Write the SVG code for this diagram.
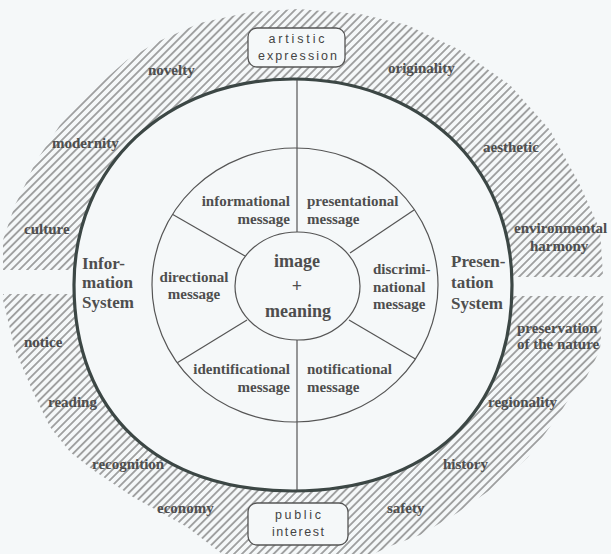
<svg xmlns="http://www.w3.org/2000/svg" width="611" height="554" viewBox="0 0 611 554">
<style>
.bg{fill:#f5f8f9}
.thick{fill:#f5f8f9;stroke:#3c4745;stroke-width:3.2}
.thin{fill:none;stroke:#555;stroke-width:1.2}
.fillc{fill:#f5f8f9;stroke:#555;stroke-width:1.2}
.s{font-family:"Liberation Serif","Times New Roman",serif;font-weight:bold;fill:#4e4e4e}
.lab{font-size:15px}
.msg{font-size:15px}
.sys{font-size:17px}
.ctr{font-size:18px}
.box{fill:#f5f8f9;stroke:#555;stroke-width:1.3}
.bt{font-family:"Liberation Sans",Arial,sans-serif;font-size:12.5px;fill:#444;text-anchor:middle}
</style>
<defs>
<pattern id="hp" width="5.6" height="10" patternUnits="userSpaceOnUse" patternTransform="rotate(45)">
<line x1="2.8" y1="0" x2="2.8" y2="10" stroke="#5a5a5a" stroke-width="1.05"/>
</pattern>
<path id="oc" d="M512,285 C512,412.7 428.8,491 293,491 C157.2,491 74,412.7 74,285 C74,165.5 166,79 293,79 C420,79 512,165.5 512,285 Z"/>
<mask id="ring" maskUnits="userSpaceOnUse" x="0" y="0" width="611" height="554">
<polygon fill="#fff" points="298,9 360,14 407,25 460,50 510,85 550,130 580,185 600,230 604,290 600,350 585,380 573,392 560,413 528,457 500,483 457,513 420,535 393,545 360,560 230,560 187,527 133,497 93,470 70,452 50,427 33,392 15,350 3,300 3,240 15,205 25,185 35,163 60,125 95,88 127,60 157,42 200,23 250,12"/>
<use href="#oc" fill="#000"/>
<rect x="0" y="270" width="110" height="24" fill="#000"/>
<rect x="470" y="277" width="141" height="19" fill="#000"/>
</mask>
</defs>
<rect class="bg" x="0" y="0" width="611" height="554"/>
<g id="hatch">
<rect x="0" y="0" width="611" height="554" fill="url(#hp)" mask="url(#ring)"/>
</g>
<g id="outer-circle">
<use href="#oc" class="thick"/>
</g>
<g id="middle-circle">
<ellipse class="thin" cx="295" cy="285" rx="143" ry="137"/>
</g>
<g id="connectors">
<line class="thin" x1="297" y1="80" x2="297" y2="232"/>
<line class="thin" x1="297" y1="340" x2="297" y2="490"/>
<line class="thin" x1="245" y1="256" x2="172.8" y2="214.5"/>
<line class="thin" x1="350" y1="253" x2="414.4" y2="209.8"/>
<line class="thin" x1="247" y1="320" x2="177.3" y2="362.8"/>
<line class="thin" x1="349" y1="320" x2="415.4" y2="358.9"/>
</g>
<g id="center">
<ellipse class="fillc" cx="297.5" cy="286" rx="62.5" ry="54"/>
<text class="s ctr" x="297" y="267" text-anchor="middle">image</text>
<text class="s ctr" x="297" y="292" text-anchor="middle">+</text>
<text class="s ctr" x="298" y="317" text-anchor="middle">meaning</text>
</g>
<g id="informational">
<text class="s msg" x="290" y="206" text-anchor="end">informational</text>
<text class="s msg" x="290" y="224" text-anchor="end">message</text>
</g>
<g id="presentational">
<text class="s msg" x="307" y="206">presentational</text>
<text class="s msg" x="307" y="224">message</text>
</g>
<g id="directional">
<text class="s msg" x="194" y="282" text-anchor="middle">directional</text>
<text class="s msg" x="194" y="299" text-anchor="middle">message</text>
</g>
<g id="discriminational">
<text class="s msg" x="373" y="274">discrimi-</text>
<text class="s msg" x="373" y="292">national</text>
<text class="s msg" x="373" y="309">message</text>
</g>
<g id="identificational">
<text class="s msg" x="290" y="374" text-anchor="end">identificational</text>
<text class="s msg" x="290" y="392" text-anchor="end">message</text>
</g>
<g id="notificational">
<text class="s msg" x="307" y="374">notificational</text>
<text class="s msg" x="307" y="392">message</text>
</g>
<g id="information-system">
<text class="s sys" x="82" y="269">Infor-</text>
<text class="s sys" x="82" y="288">mation</text>
<text class="s sys" x="82" y="308">System</text>
</g>
<g id="presentation-system">
<text class="s sys" x="451" y="267">Presen-</text>
<text class="s sys" x="451" y="288">tation</text>
<text class="s sys" x="451" y="309">System</text>
</g>
<g id="artistic-expression">
<rect class="box" x="248" y="28" width="97" height="39" rx="9"/>
<text class="bt" x="296.5" y="43" textLength="56" lengthAdjust="spacing">artistic</text>
<text class="bt" x="297.5" y="60" textLength="79" lengthAdjust="spacing">expression</text>
</g>
<g id="public-interest">
<rect class="box" x="248" y="503" width="100" height="42" rx="9"/>
<text class="bt" x="298" y="519" textLength="46" lengthAdjust="spacing">public</text>
<text class="bt" x="298" y="536" textLength="52" lengthAdjust="spacing">interest</text>
</g>
<g id="labels">
<text class="s lab" x="148" y="75">novelty</text>
<text class="s lab" x="388" y="73">originality</text>
<text class="s lab" x="52" y="148">modernity</text>
<text class="s lab" x="483" y="152">aesthetic</text>
<text class="s lab" x="24" y="234">culture</text>
<text class="s lab" x="514" y="233">environmental</text>
<text class="s lab" x="530" y="251">harmony</text>
<text class="s lab" x="24" y="347">notice</text>
<text class="s lab" x="517" y="333">preservation</text>
<text class="s lab" x="517" y="349">of the nature</text>
<text class="s lab" x="48" y="407">reading</text>
<text class="s lab" x="488" y="407">regionality</text>
<text class="s lab" x="92" y="469">recognition</text>
<text class="s lab" x="443" y="469">history</text>
<text class="s lab" x="157" y="513">economy</text>
<text class="s lab" x="387" y="513">safety</text>
</g>
</svg>
